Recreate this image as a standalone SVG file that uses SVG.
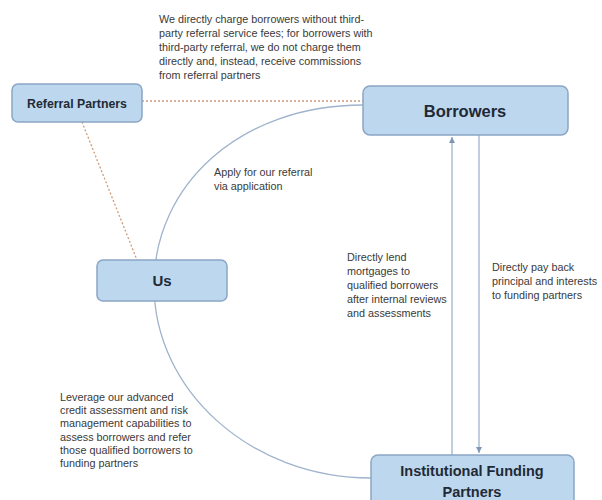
<svg xmlns="http://www.w3.org/2000/svg" width="602" height="500" viewBox="0 0 602 500">
<style>
.box{fill:#bdd7ee;stroke:#8ba6c4;stroke-width:1.5}
.lbl{font-family:"Liberation Sans",Arial,sans-serif;font-weight:bold;fill:#1f2a36;text-anchor:middle}
.note{font-family:"Liberation Sans",Arial,sans-serif;font-size:10.8px;fill:#3a3a3a}
.dot{fill:none;stroke:#d09a78;stroke-width:1.3;stroke-dasharray:2,2}
.ln{fill:none;stroke:#9fb3cc;stroke-width:1.3}
</style>
<defs>
<marker id="ah" markerWidth="8" markerHeight="8" refX="6" refY="3" orient="auto" markerUnits="userSpaceOnUse">
<path d="M0,0 L6,3 L0,6 z" fill="#7f97b5"/>
</marker>
</defs>
<g id="connectors">
<line class="dot" x1="142" y1="101" x2="363" y2="101"/>
<line class="dot" x1="82" y1="122" x2="137" y2="260"/>
<path class="ln" d="M363,105 C240,105 154,185 154,285 C154,390 250,478 371,478"/>
<line class="ln" x1="452" y1="455" x2="452" y2="137" marker-end="url(#ah)"/>
<line class="ln" x1="479" y1="135" x2="479" y2="453" marker-end="url(#ah)"/>
</g>
<g id="referral-partners">
<rect class="box" x="12" y="84" width="130" height="38" rx="6"/>
<text class="lbl" x="77" y="108" font-size="12.3">Referral Partners</text>
</g>
<g id="borrowers">
<rect class="box" x="363" y="86" width="205" height="49" rx="7"/>
<text class="lbl" x="465" y="117" font-size="16.5">Borrowers</text>
</g>
<g id="us">
<rect class="box" x="97" y="260" width="130" height="41" rx="6"/>
<text class="lbl" x="162" y="286" font-size="15">Us</text>
</g>
<g id="institutional-funding-partners">
<rect class="box" x="371" y="455" width="203" height="52" rx="7"/>
<text class="lbl" x="472" y="476" font-size="14.5">Institutional Funding</text>
<text class="lbl" x="472" y="497" font-size="14.5">Partners</text>
</g>
<g id="notes">
<text class="note" x="159" y="23">We directly charge borrowers without third-</text>
<text class="note" x="159" y="37">party referral service fees;  for borrowers with</text>
<text class="note" x="159" y="51">third-party referral, we do not charge them</text>
<text class="note" x="159" y="65">directly and, instead, receive commissions</text>
<text class="note" x="159" y="79">from referral partners</text>
<text class="note" x="214" y="176">Apply for our referral</text>
<text class="note" x="214" y="190">via application</text>
<text class="note" x="347" y="261">Directly lend</text>
<text class="note" x="347" y="275">mortgages to</text>
<text class="note" x="347" y="289">qualified borrowers</text>
<text class="note" x="347" y="303">after internal reviews</text>
<text class="note" x="347" y="317">and assessments</text>
<text class="note" x="492" y="271">Directly pay back</text>
<text class="note" x="492" y="285">principal and interests</text>
<text class="note" x="492" y="299">to funding partners</text>
<text class="note" x="60" y="401">Leverage our advanced</text>
<text class="note" x="60" y="414">credit assessment and risk</text>
<text class="note" x="60" y="427">management capabilities to</text>
<text class="note" x="60" y="441">assess borrowers and refer</text>
<text class="note" x="60" y="454">those qualified borrowers to</text>
<text class="note" x="60" y="467">funding partners</text>
</g>
</svg>
